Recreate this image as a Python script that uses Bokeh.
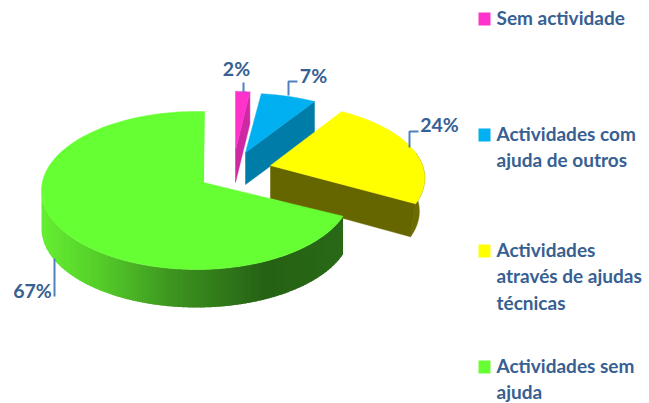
import numpy as np
from bokeh.plotting import figure
from bokeh.models import Range1d
from bokeh.core.properties import value
from bokeh.embed import file_html
from bokeh.resources import INLINE

categories = ["Sem actividade", "Actividades com\najuda de outros",
              "Actividades\natravés de ajudas\ntécnicas", "Actividades sem\najuda"]
shares = [2, 7, 24, 67]
pct_labels = ["2%", "7%", "24%", "67%"]
top_colors = ["#ff33cc", "#00b0f0", "#ffff00", "#66ff33"]
side_colors = ["#cc29a3", "#007ca8", "#666600", "#2a6a17"]

W, H = 649, 403
TXT = "#376092"
LEAD = "#4f81bd"

p = figure(width=W, height=H, x_range=Range1d(0, W), y_range=Range1d(H, 0),
           toolbar_location=None, output_backend="svg", min_border=0, tools="")
p.axis.visible = False
p.grid.visible = False
p.outline_line_color = None
p.background_fill_color = "white"
p.border_fill_color = "white"

# slice geometry: apex x, apex y, horizontal radius, vertical radius, perspective, depth, wall taper
geom = [
    (235, 150, 132, 68, 0.15, 32, 1.0),
    (245, 152, 145, 68, 0.15, 32, 1.0),
    (270, 165, 152, 73, 0.17, 33, 0.965),
    (203, 182, 155, 79, 0.0, 38, 1.0),
]
# the green rim is an off-centre ellipse seen in perspective
GREEN_C = (196, 190)
GREEN_SPAN = (np.radians(109), np.radians(363))
cum = np.concatenate([[0], np.cumsum(shares)]) / sum(shares) * 2 * np.pi


def rim(i, t):
    ax, ay, a, b, k, d, _ = geom[i]
    if i == 3:
        phi = GREEN_SPAN[0] + (t - cum[3]) / (cum[4] - cum[3]) * (GREEN_SPAN[1] - GREEN_SPAN[0])
        return GREEN_C[0] + a * np.sin(phi), GREEN_C[1] - b * np.cos(phi)
    X, Y = np.sin(t), np.cos(t)
    s = 1 + k * Y
    return ax + a * X / s, ay - b * Y / s


def fill(xs, ys, color, lw=0.5):
    p.patch(list(xs), list(ys), fill_color=color, line_color=color, line_width=lw)


def top_face(i):
    ax, ay = geom[i][:2]
    ox, oy = rim(i, np.linspace(cum[i], cum[i + 1], 120))
    fill([ax] + list(ox), [ay] + list(oy), top_colors[i])


def cut_wall(i):
    ax, ay, *_, d, tp = geom[i]
    ex, ey = rim(i, cum[i + 1])
    fill([ax, ex, ax + (ex - ax) * tp, ax], [ay, ey, ey + d, ay + d], side_colors[i])


# green outer wall with horizontal shading
t = np.linspace(cum[3], cum[4], 800)
gx, gy = rim(3, t)
d3 = geom[3][5]
low = np.argmin(gx)
wx, wy = gx[:low + 1][::-1], gy[:low + 1][::-1]  # x increasing
stops_x = [40, 100, 170, 265, 345]
stops_c = [(102, 240, 50), (85, 205, 42), (62, 150, 32), (38, 98, 20), (42, 106, 23)]
edges = np.linspace(wx.min(), wx.max(), 121)
xs, ys, cs = [], [], []
for e0, e1 in zip(edges[:-1], edges[1:]):
    hi = min(e1 + 1.2, wx.max())
    inner = wx[(wx > e0) & (wx < hi)]
    px = np.concatenate([[e0], inner, [hi]])
    py = np.interp(px, wx, wy)
    xs.append(list(px) + list(px[::-1]))
    ys.append(list(py) + list(py[::-1] + d3))
    mid = (e0 + e1) / 2
    c = [int(np.interp(mid, stops_x, [s[j] for s in stops_c])) for j in range(3)]
    cs.append("#%02x%02x%02x" % tuple(c))
p.patches(xs, ys, fill_color=cs, line_color=None)

# sliver of the green slice's cut face near the top
ax3, ay3 = geom[3][:2]
fill([ax3, ax3, ax3 - 3], [ay3 - 55, ay3, ay3 - 3], "#55cc2a")

# pink and blue cut faces and tops
for i in [0, 1]:
    cut_wall(i)
    top_face(i)

# yellow outer wall, cut face, top
ax, ay, *_, d, tp = geom[2]
ox, oy = rim(2, np.linspace(cum[2] + (cum[3] - cum[2]) * 0.55, cum[3], 60))
bx = ax + (ox - ax) * tp
fill(list(ox) + list(bx[::-1]), list(oy) + list(oy[::-1] + d), "#6b6b00")
cut_wall(2)
top_face(2)

# green top lies over the yellow wall
top_face(3)

# leaders
p.line([243, 243], [82, 92], line_color=LEAD, line_width=2)
p.line([288, 288, 297], [95, 81, 81], line_color=LEAD, line_width=2)
p.line([409, 409, 418], [147, 131, 131], line_color=LEAD, line_width=2)
p.line([54, 54], [258, 296], line_color=LEAD, line_width=2)

# percentage labels
lx = [236, 313, 439, 32]
ly = [68, 75, 124, 290]
p.text(lx, ly, text=pct_labels, text_font=value("Lato"), text_font_style="bold",
       text_font_size="19.5px", text_color=TXT, text_align="center", text_baseline="middle")

# legend
sq_y = [18.5, 134.5, 250.5, 366.5]
p.rect([484] * 4, sq_y, width=12, height=13, fill_color=top_colors, line_color=None)
tx, ty, tt_ = [], [], []
for c, y in zip(categories, sq_y):
    for n, line in enumerate(c.split("\n")):
        tx.append(496)
        ty.append(y - 2 + n * 26.8)
        tt_.append(line)
p.text(tx, ty, text=tt_, text_font=value("Lato"), text_font_style="bold", text_font_size="19px",
       text_color=TXT, text_align="left", text_baseline="middle")

open("out.html", "w").write(file_html(p, INLINE))
